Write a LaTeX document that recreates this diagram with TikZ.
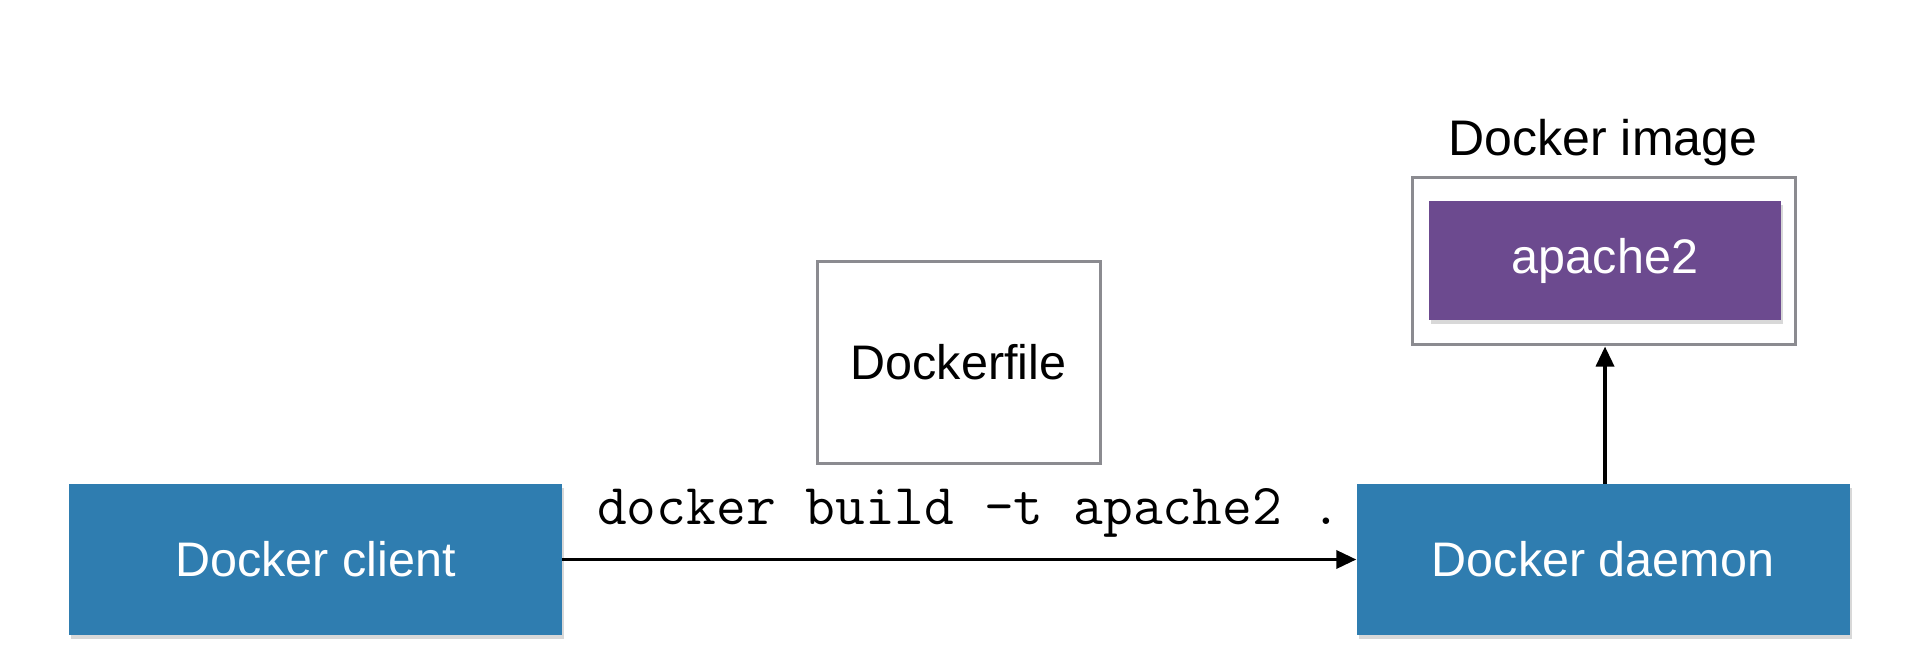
\documentclass[tikz,border=0pt]{standalone}
\usepackage{fontspec}
\setmainfont{Liberation Sans}
\usetikzlibrary{arrows.meta,shadows}
\definecolor{dblue}{HTML}{2F7DB0}
\definecolor{dpurple}{HTML}{6C4A8F}
\definecolor{bgray}{HTML}{8B8B90}
\tikzset{
  bluebox/.style={rectangle, fill=dblue, text=white, minimum width=493pt, minimum height=151pt,
    inner sep=0pt, font=\fontsize{48.5}{56}\selectfont,
    drop shadow={shadow xshift=2pt, shadow yshift=-4pt, opacity=0.25, fill=black!60}},
  purplebox/.style={rectangle, fill=dpurple, text=white, minimum width=352pt, minimum height=119pt,
    inner sep=0pt, font=\fontsize{48.5}{56}\selectfont,
    drop shadow={shadow xshift=2pt, shadow yshift=-4pt, opacity=0.25, fill=black!60}},
  graybox/.style={rectangle, draw=bgray, line width=3pt, fill=white, inner sep=0pt},
  lbl/.style={font=\fontsize{48.5}{56}\selectfont, inner sep=0pt},
  conn/.style={line width=3.5pt, -{Triangle[length=20pt,width=18pt]}}
}
\begin{document}
\begin{tikzpicture}[x=1pt,y=1pt]
\useasboundingbox (0,0) rectangle (1910,670);
\fill[white] (0,0) rectangle (1910,670);
\node[bluebox] (client) at (315.5,110.5) {Docker client};
\node[bluebox] (daemon) at (1603,110.5) {Docker daemon};
\node[graybox, minimum width=283pt, minimum height=201pt, lbl] (dockerfile) at (958.5,307.5) {Dockerfile};
\node[graybox, minimum width=383pt, minimum height=167pt] (image) at (1603.5,408.5) {};
\node[purplebox] (apache) at (1605,409.5) {apache2};
\node[lbl, anchor=base, font=\fontsize{50}{56}\selectfont] (imglabel) at (1603,514) {Docker image};
\node[anchor=base west, inner sep=0pt, font=\ttfamily\fontsize{57.8}{60}\selectfont] (cmd) at (597,146) {docker build -t apache2 .};
\draw[conn] (client.east) -- (daemon.west);
\draw[conn] (daemon.north -| apache.south) -- (image.south -| apache.south);
\end{tikzpicture}
\end{document}
